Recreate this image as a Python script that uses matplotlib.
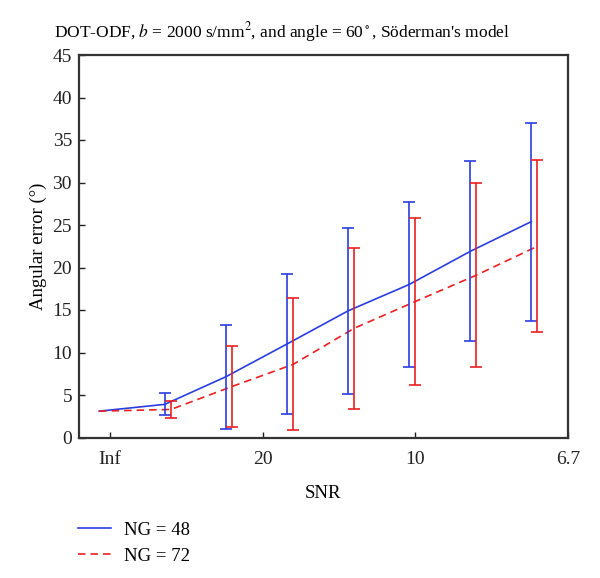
import matplotlib
matplotlib.use("Agg")
import matplotlib.pyplot as plt
import numpy as np

plt.rcParams['font.family'] = ['Liberation Serif', 'DejaVu Serif']
plt.rcParams['mathtext.fontset'] = 'stix'

# x positions in 1/SNR units (Inf -> 0, 20 -> 0.05, 10 -> 0.1, 6.7 -> 0.15)
x_ng48 = [-0.0035, 0.018, 0.038, 0.058, 0.078, 0.098, 0.118, 0.138]
x_ng72 = [-0.0035, 0.020, 0.040, 0.060, 0.080, 0.100, 0.120, 0.140]
mean_ng48 = [3.1, 3.9, 7.15, 11.0, 14.9, 18.0, 21.9, 25.4]
err_ng48 = [0.0, 1.28, 6.1, 8.2, 9.8, 9.75, 10.6, 11.65]
mean_ng72 = [3.1, 3.3, 6.0, 8.6, 12.85, 16.0, 19.1, 22.5]
err_ng72 = [0.0, 0.96, 4.75, 7.76, 9.5, 9.85, 10.8, 10.1]

xtick_pos = [0.0, 0.05, 0.10, 0.15]
xtick_labels = ['Inf', '20', '10', '6.7']
yticks = [0, 5, 10, 15, 20, 25, 30, 35, 40, 45]

blue = '#2a3ee0'
red = '#e82020'

fig = plt.figure(figsize=(6.0, 5.78), dpi=100)
ax = fig.add_axes([79/600, 1-437.5/578, (568-79)/600, (437.5-55)/578])

ax.plot(x_ng48, mean_ng48, color=blue, lw=1.2, label='NG = 48')
ax.plot(x_ng72, mean_ng72, color=red, lw=1.2, linestyle=(0, (4.5, 3)), label='NG = 72')
ax.errorbar(x_ng48[1:], mean_ng48[1:], yerr=err_ng48[1:], fmt='none',
            ecolor=blue, elinewidth=1.2, capsize=4, capthick=1.2)
ax.errorbar(x_ng72[1:], mean_ng72[1:], yerr=err_ng72[1:], fmt='none',
            ecolor=red, elinewidth=1.2, capsize=4, capthick=1.2)

ax.set_xlim(-0.0101, 0.15)
ax.set_ylim(0, 45)
ax.set_xticks(xtick_pos)
ax.set_xticklabels(xtick_labels)
ax.set_yticks(yticks)
ax.tick_params(direction='in', length=4, width=1, labelsize=14, colors='#222222')
ax.tick_params(axis='x', pad=10)
ax.tick_params(axis='y', pad=5)
for s in ax.spines.values():
    s.set_color('#333333')
    s.set_linewidth(1.6)

ax.set_xlabel('SNR', fontsize=13.5, labelpad=12)
ax.set_ylabel('Angular error (°)', fontsize=13.5, labelpad=4)
fig.text(282/600, 1-32/578,
         "DOT-ODF, $b$ = 2000 s/mm$^2$, and angle = 60$^\\circ$, Söderman's model",
         fontsize=12.5, ha='center', va='center')

handles, labels = ax.get_legend_handles_labels()
fig.legend(handles, labels, loc='upper left', bbox_to_anchor=(61/600, 1-505/578),
           frameon=False, fontsize=13.5, handlelength=1.75, handletextpad=0.7,
           labelspacing=0.45)

fig.savefig('out.png', dpi=100)
